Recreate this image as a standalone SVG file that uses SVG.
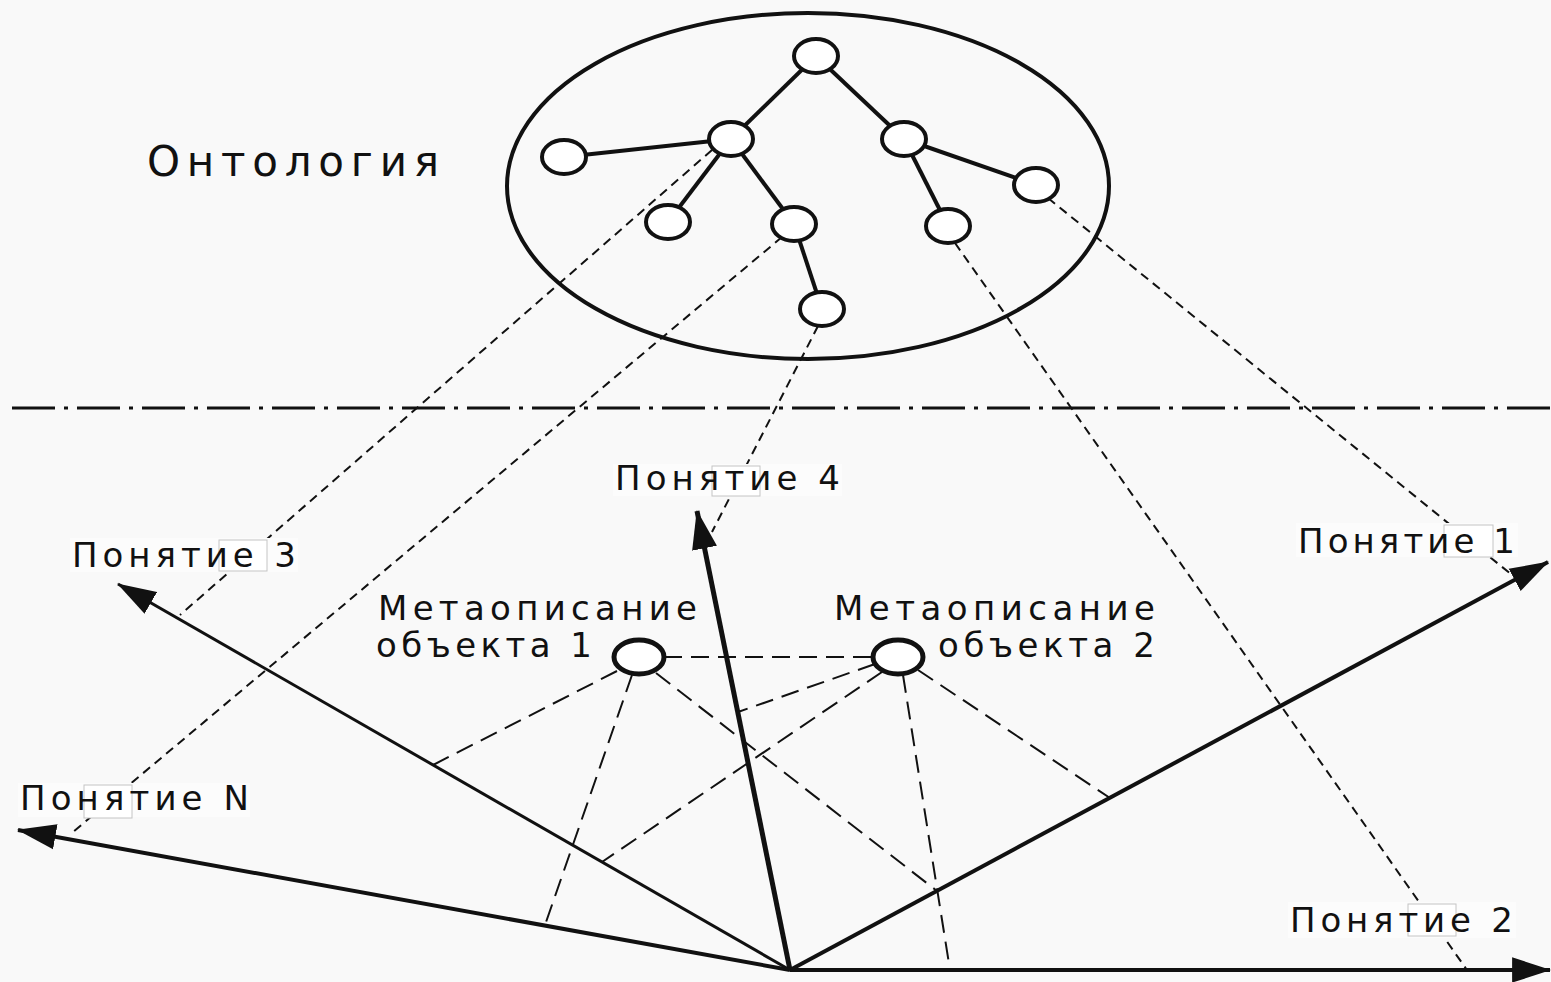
<svg xmlns="http://www.w3.org/2000/svg" width="1551" height="982" viewBox="0 0 1551 982">
<defs>
<style>
.bg{fill:#f9f9f9}
.node{fill:#ffffff;stroke:#111;stroke-width:4}
.meta{fill:#ffffff;stroke:#111;stroke-width:5}
.edge{stroke:#111;stroke-width:4;fill:none}
.proj{stroke:#111;stroke-width:2;stroke-dasharray:9 6;fill:none}
.mdash{stroke:#111;stroke-width:2;stroke-dasharray:18 9;fill:none}
.axis{stroke:#111;stroke-width:4;fill:none;marker-end:url(#ah)}
.sep{stroke:#111;stroke-width:3;stroke-dasharray:43 9 4 9;fill:none}
.lbl{font-family:"DejaVu Sans","Liberation Sans",sans-serif;font-size:34px;fill:#111}
.title{font-family:"DejaVu Sans","Liberation Sans",sans-serif;font-size:42px;fill:#111}
.box{fill:#ffffff;stroke:#c4c4c4;stroke-width:1}
.lblbg{fill:#fcfcfc}
</style>
<marker id="ah" markerUnits="userSpaceOnUse" markerWidth="40" markerHeight="28" viewBox="0 -13 38 26" refX="36" refY="0" orient="auto">
<path d="M0,-12 L37,0 L0,12 Z" fill="#111"/>
</marker>
</defs>
<rect class="bg" x="0" y="0" width="1551" height="982"/>

<g id="ontology">
<ellipse cx="808" cy="186" rx="301" ry="173" fill="none" stroke="#111" stroke-width="4"/>
</g>

<g id="separator">
<line class="sep" x1="12" y1="408" x2="1551" y2="408"/>
</g>

<g id="connectors">
<line class="edge" x1="816" y1="56" x2="731" y2="139"/>
<line class="edge" x1="816" y1="56" x2="904" y2="139"/>
<line class="edge" x1="731" y1="139" x2="564" y2="157"/>
<line class="edge" x1="731" y1="139" x2="668" y2="222"/>
<line class="edge" x1="731" y1="139" x2="794" y2="224"/>
<line class="edge" x1="794" y1="224" x2="822" y2="309"/>
<line class="edge" x1="904" y1="139" x2="948" y2="226"/>
<line class="edge" x1="904" y1="139" x2="1036" y2="185"/>
<line class="proj" x1="712" y1="150" x2="180" y2="615"/>
<line class="proj" x1="782" y1="237" x2="73" y2="832"/>
<line class="proj" x1="818" y1="326" x2="712" y2="532"/>
<line class="proj" x1="955" y1="243" x2="1467" y2="970"/>
<line class="proj" x1="1048" y1="198" x2="1512" y2="575"/>
<line class="mdash" x1="617" y1="671" x2="433" y2="765"/>
<line class="mdash" x1="632" y1="675" x2="545" y2="925"/>
<line class="mdash" x1="656" y1="673" x2="937" y2="891"/>
<line class="mdash" x1="664" y1="657" x2="873" y2="657"/>
<line class="mdash" x1="875" y1="664" x2="738" y2="712"/>
<line class="mdash" x1="882" y1="672" x2="602" y2="862"/>
<line class="mdash" x1="903" y1="675" x2="950" y2="970"/>
<line class="mdash" x1="918" y1="670" x2="1110" y2="798"/>
<line class="axis" x1="790" y1="970" x2="1550" y2="970"/>
<line class="axis" x1="790" y1="970" x2="1548" y2="562"/>
<line class="axis" x1="790" y1="970" x2="697" y2="511" style="stroke-width:5"/>
<line class="axis" x1="790" y1="970" x2="118" y2="584" style="stroke-width:3"/>
<line class="axis" x1="790" y1="970" x2="18" y2="830"/>
</g>

<g id="ontology-nodes">
<ellipse id="n-root" class="node" cx="816" cy="56" rx="22" ry="17"/>
<ellipse id="n-1" class="node" cx="731" cy="139" rx="22" ry="17"/>
<ellipse id="n-2" class="node" cx="904" cy="139" rx="22" ry="17"/>
<ellipse id="n-3" class="node" cx="564" cy="157" rx="22" ry="17"/>
<ellipse id="n-4" class="node" cx="668" cy="222" rx="22" ry="17"/>
<ellipse id="n-5" class="node" cx="794" cy="224" rx="22" ry="17"/>
<ellipse id="n-6" class="node" cx="948" cy="226" rx="22" ry="17"/>
<ellipse id="n-7" class="node" cx="1036" cy="185" rx="22" ry="17"/>
<ellipse id="n-8" class="node" cx="822" cy="309" rx="22" ry="17"/>
</g>

<g id="title">
<text class="title" x="147" y="176" textLength="292" lengthAdjust="spacing">Онтология</text>
</g>

<g id="meta1">
<ellipse class="meta" cx="639" cy="657" rx="25" ry="17"/>
<text class="lbl" x="378" y="620" textLength="319" lengthAdjust="spacing">Метаописание</text>
<text class="lbl" x="376" y="657" textLength="216" lengthAdjust="spacing">объекта 1</text>
</g>

<g id="meta2">
<ellipse class="meta" cx="898" cy="657" rx="25" ry="17"/>
<text class="lbl" x="834" y="620" textLength="321" lengthAdjust="spacing">Метаописание</text>
<text class="lbl" x="938" y="657" textLength="217" lengthAdjust="spacing">объекта 2</text>
</g>

<g id="concept3">
<rect class="lblbg" x="70" y="538" width="228" height="34"/>
<rect class="box" x="219" y="540" width="48" height="31"/>
<text class="lbl" x="72" y="567" textLength="224" lengthAdjust="spacing">Понятие 3</text>
</g>

<g id="conceptN">
<rect class="lblbg" x="18" y="783" width="232" height="34"/>
<rect class="box" x="84" y="785" width="48" height="33"/>
<text class="lbl" x="20" y="810" textLength="229" lengthAdjust="spacing">Понятие N</text>
</g>

<g id="concept4">
<rect class="lblbg" x="613" y="464" width="229" height="32"/>
<rect class="box" x="712" y="466" width="48" height="30"/>
<text class="lbl" x="615" y="490" textLength="225" lengthAdjust="spacing">Понятие 4</text>
</g>

<g id="concept1">
<rect class="lblbg" x="1296" y="523" width="222" height="34"/>
<rect class="box" x="1444" y="525" width="49" height="32"/>
<text class="lbl" x="1298" y="553" textLength="217" lengthAdjust="spacing">Понятие 1</text>
</g>

<g id="concept2">
<rect class="lblbg" x="1288" y="902" width="228" height="36"/>
<rect class="box" x="1408" y="904" width="48" height="32"/>
<text class="lbl" x="1290" y="932" textLength="223" lengthAdjust="spacing">Понятие 2</text>
</g>
</svg>
